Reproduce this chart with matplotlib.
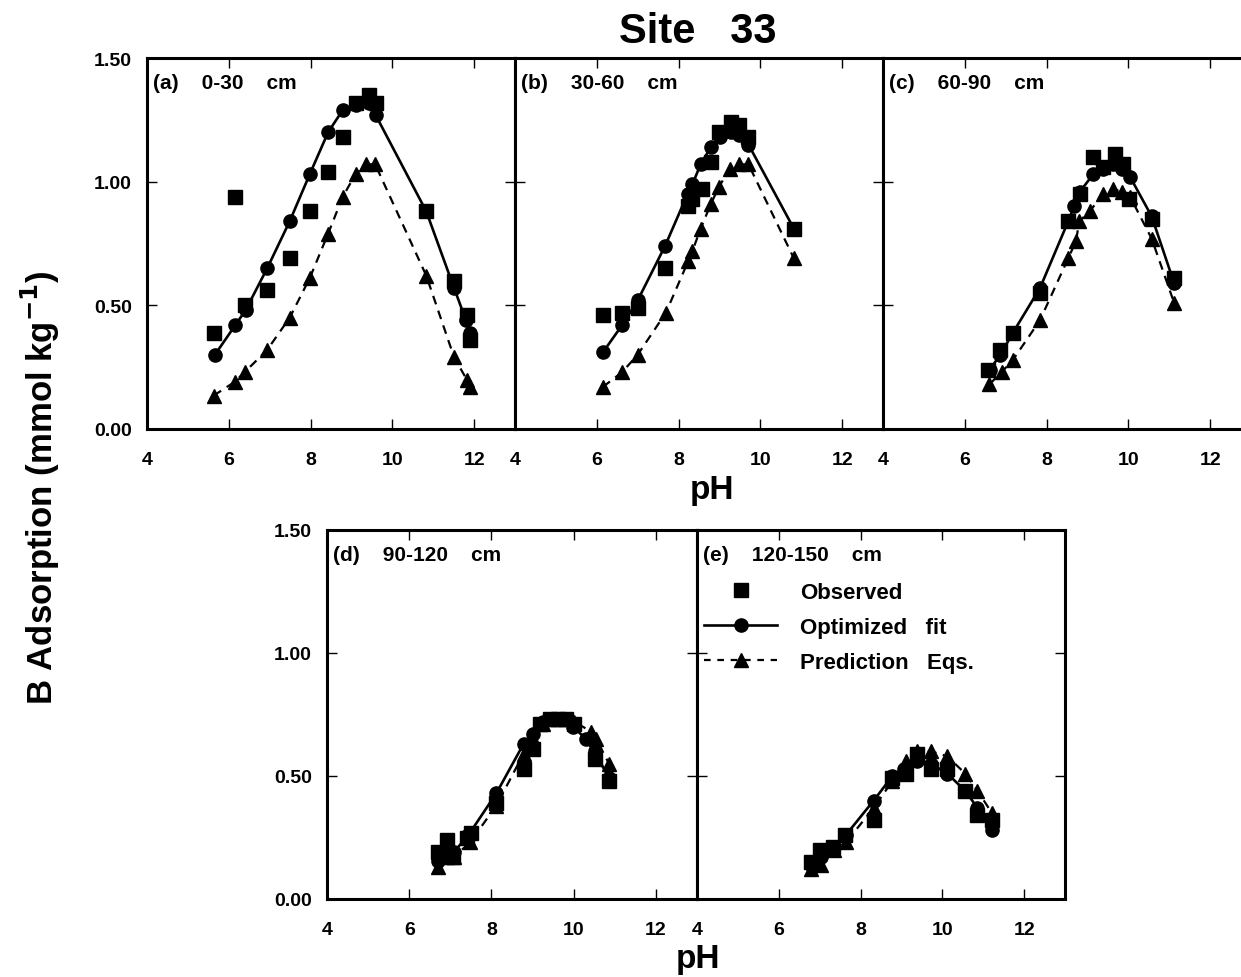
import matplotlib
matplotlib.use("Agg")
import matplotlib.pyplot as plt
from matplotlib.lines import Line2D

plt.rcParams['font.family'] = ['Liberation Sans', 'DejaVu Sans']
plt.rcParams['font.weight'] = 'bold'

# (a) 0-30 cm
a_obs_ph = [5.63, 6.16, 6.39, 6.94, 7.49, 7.98, 8.43, 8.79, 9.10, 9.43, 9.61, 10.83, 11.51, 11.82, 11.90]
a_obs = [0.39, 0.94, 0.50, 0.56, 0.69, 0.88, 1.04, 1.18, 1.32, 1.35, 1.32, 0.88, 0.60, 0.46, 0.36]
a_fit_ph = [5.66, 6.16, 6.41, 6.94, 7.49, 7.98, 8.43, 8.79, 9.10, 9.43, 9.59, 10.83, 11.51, 11.80, 11.90]
a_fit = [0.30, 0.42, 0.48, 0.65, 0.84, 1.03, 1.20, 1.29, 1.31, 1.32, 1.27, 0.88, 0.57, 0.44, 0.39]
a_pred_ph = [5.63, 6.14, 6.39, 6.94, 7.49, 7.98, 8.43, 8.79, 9.10, 9.35, 9.58, 10.83, 11.51, 11.82, 11.90]
a_pred = [0.135, 0.19, 0.23, 0.32, 0.45, 0.61, 0.79, 0.94, 1.03, 1.07, 1.07, 0.62, 0.29, 0.20, 0.17]

# (b) 30-60 cm
b_obs_ph = [6.15, 6.62, 7.00, 7.67, 8.22, 8.34, 8.57, 8.79, 8.99, 9.28, 9.48, 9.71, 10.82]
b_obs = [0.46, 0.47, 0.49, 0.65, 0.90, 0.93, 0.97, 1.08, 1.20, 1.24, 1.23, 1.18, 0.81]
b_fit_ph = [6.15, 6.62, 7.00, 7.67, 8.22, 8.34, 8.54, 8.79, 9.01, 9.28, 9.48, 9.71, 10.82]
b_fit = [0.31, 0.42, 0.52, 0.74, 0.95, 0.99, 1.07, 1.14, 1.18, 1.20, 1.19, 1.15, 0.81]
b_pred_ph = [6.15, 6.62, 7.00, 7.69, 8.24, 8.34, 8.54, 8.79, 8.99, 9.25, 9.48, 9.71, 10.82]
b_pred = [0.17, 0.23, 0.30, 0.47, 0.68, 0.72, 0.81, 0.91, 0.98, 1.05, 1.07, 1.07, 0.69]

# (c) 60-90 cm
c_obs_ph = [6.57, 6.86, 7.18, 7.84, 8.53, 8.82, 9.14, 9.37, 9.67, 9.88, 10.02, 10.57, 11.12]
c_obs = [0.24, 0.32, 0.39, 0.55, 0.84, 0.95, 1.10, 1.06, 1.11, 1.07, 0.93, 0.85, 0.61]
c_fit_ph = [6.61, 6.87, 7.18, 7.84, 8.53, 8.67, 8.82, 9.14, 9.37, 9.63, 9.84, 10.04, 10.57, 11.12]
c_fit = [0.24, 0.30, 0.39, 0.57, 0.84, 0.90, 0.96, 1.03, 1.05, 1.07, 1.05, 1.02, 0.86, 0.59]
c_pred_ph = [6.60, 6.90, 7.18, 7.84, 8.53, 8.72, 8.80, 9.06, 9.37, 9.63, 9.84, 10.04, 10.57, 11.12]
c_pred = [0.18, 0.23, 0.28, 0.44, 0.69, 0.76, 0.84, 0.88, 0.95, 0.97, 0.96, 0.94, 0.77, 0.51]

# (d) 90-120 cm
d_obs_ph = [6.71, 6.91, 7.06, 7.40, 7.50, 8.12, 8.78, 9.00, 9.17, 9.42, 9.62, 9.82, 10.02, 10.51, 10.86]
d_obs = [0.19, 0.24, 0.17, 0.25, 0.27, 0.39, 0.53, 0.61, 0.71, 0.73, 0.73, 0.73, 0.71, 0.57, 0.48]
d_fit_ph = [6.71, 6.87, 7.08, 7.44, 8.12, 8.78, 9.00, 9.25, 9.49, 9.73, 9.99, 10.30, 10.51, 10.86]
d_fit = [0.155, 0.19, 0.19, 0.26, 0.43, 0.63, 0.67, 0.72, 0.73, 0.73, 0.70, 0.65, 0.60, 0.49]
d_pred_ph = [6.71, 6.91, 7.08, 7.48, 8.12, 8.78, 9.00, 9.25, 9.49, 9.78, 10.02, 10.43, 10.55, 10.86]
d_pred = [0.13, 0.17, 0.17, 0.23, 0.38, 0.59, 0.65, 0.71, 0.73, 0.73, 0.72, 0.68, 0.65, 0.55]

# (e) 120-150 cm
e_obs_ph = [6.79, 7.00, 7.32, 7.62, 8.32, 8.78, 9.11, 9.39, 9.72, 10.12, 10.56, 10.86, 11.21]
e_obs = [0.15, 0.20, 0.21, 0.26, 0.32, 0.49, 0.51, 0.59, 0.53, 0.53, 0.44, 0.34, 0.32]
e_fit_ph = [6.79, 7.03, 7.36, 7.64, 8.32, 8.78, 9.07, 9.39, 9.72, 10.12, 10.56, 10.86, 11.21]
e_fit = [0.14, 0.17, 0.21, 0.26, 0.40, 0.50, 0.53, 0.56, 0.55, 0.51, 0.44, 0.37, 0.28]
e_pred_ph = [6.79, 7.03, 7.36, 7.64, 8.32, 8.78, 9.11, 9.39, 9.73, 10.12, 10.56, 10.86, 11.21]
e_pred = [0.12, 0.14, 0.20, 0.23, 0.37, 0.48, 0.56, 0.60, 0.60, 0.58, 0.51, 0.44, 0.35]

panel_titles = ['(a)    0-30    cm', '(b)    30-60    cm', '(c)    60-90    cm',
                '(d)    90-120    cm', '(e)    120-150    cm']
x_ticks = [4, 6, 8, 10, 12]
y_ticks = [0.0, 0.5, 1.0, 1.5]
y_ticklabels = ['0.00', '0.50', '1.00', '1.50']

panels = [
    (a_obs_ph, a_obs, a_fit_ph, a_fit, a_pred_ph, a_pred),
    (b_obs_ph, b_obs, b_fit_ph, b_fit, b_pred_ph, b_pred),
    (c_obs_ph, c_obs, c_fit_ph, c_fit, c_pred_ph, c_pred),
    (d_obs_ph, d_obs, d_fit_ph, d_fit, d_pred_ph, d_pred),
    (e_obs_ph, e_obs, e_fit_ph, e_fit, e_pred_ph, e_pred),
]

W, H = 1241, 978
fig = plt.figure(figsize=(W / 100, H / 100), dpi=100)

# axes boxes in pixels: left, top, right, bottom
boxes = [(147, 59, 515, 430), (515, 59, 883, 430), (883, 59, 1251, 430),
         (327, 531, 697, 900), (697, 531, 1065, 900)]

axes = []
for i, (l, t, r, b) in enumerate(boxes):
    ax = fig.add_axes([l / W, 1 - b / H, (r - l) / W, (b - t) / H])
    obs_ph, obs, fit_ph, fit, pred_ph, pred = panels[i]
    ax.plot(pred_ph, pred, ls=(0, (4, 3)), color='black', lw=1.6,
            marker='^', ms=10.5, zorder=2)
    ax.plot(fit_ph, fit, ls='-', color='black', lw=1.9,
            marker='o', ms=9.5, zorder=3)
    ax.plot(obs_ph, obs, ls='none', color='black',
            marker='s', ms=10.5, zorder=4)
    ax.set_xlim(4, 13)
    ax.set_ylim(0, 1.5)
    ax.set_xticks(x_ticks)
    ax.set_xticklabels([str(v) for v in x_ticks], fontsize=14, fontweight='bold')
    ax.set_yticks(y_ticks)
    if i in (0, 3):
        ax.set_yticklabels(y_ticklabels, fontsize=14, fontweight='bold')
    else:
        ax.set_yticklabels([])
    ax.tick_params(direction='in', length=7, width=1, top=True, right=True)
    ax.tick_params(axis='x', pad=16)
    ax.tick_params(axis='y', pad=11)
    for s in ax.spines.values():
        s.set_linewidth(2.2)
    ax.text(0.015, 0.96, panel_titles[i], transform=ax.transAxes,
            ha='left', va='top', fontsize=15, fontweight='bold')
    axes.append(ax)

handles = [
    Line2D([], [], ls='none', marker='s', ms=10.5, color='black'),
    Line2D([], [], ls='-', lw=1.9, marker='o', ms=9.5, color='black'),
    Line2D([], [], ls=(0, (3, 3)), lw=1.6, marker='^', ms=10.5, color='black'),
]
axes[4].legend(handles, ['Observed', 'Optimized   fit', 'Prediction   Eqs.'],
               loc='upper left', bbox_to_anchor=(-0.035, 0.913), frameon=False,
               numpoints=1, handlelength=3.3, handletextpad=1.0,
               labelspacing=0.62, borderpad=0.4,
               prop={'size': 16, 'weight': 'bold'})

fig.text(698 / W, 1 - 32 / H, 'Site   33', ha='center', va='center',
         fontsize=30, fontweight='bold')
fig.text(712 / W, 1 - 490 / H, 'pH', ha='center', va='center',
         fontsize=24, fontweight='bold')
fig.text(698 / W, 1 - 960 / H, 'pH', ha='center', va='center',
         fontsize=24, fontweight='bold')
fig.text(40 / W, 1 - 488 / H, r'B Adsorption (mmol kg$^{\mathbf{-1}}$)',
         ha='center', va='center', rotation=90, fontsize=25, fontweight='bold')

fig.savefig('out.png', dpi=100)
